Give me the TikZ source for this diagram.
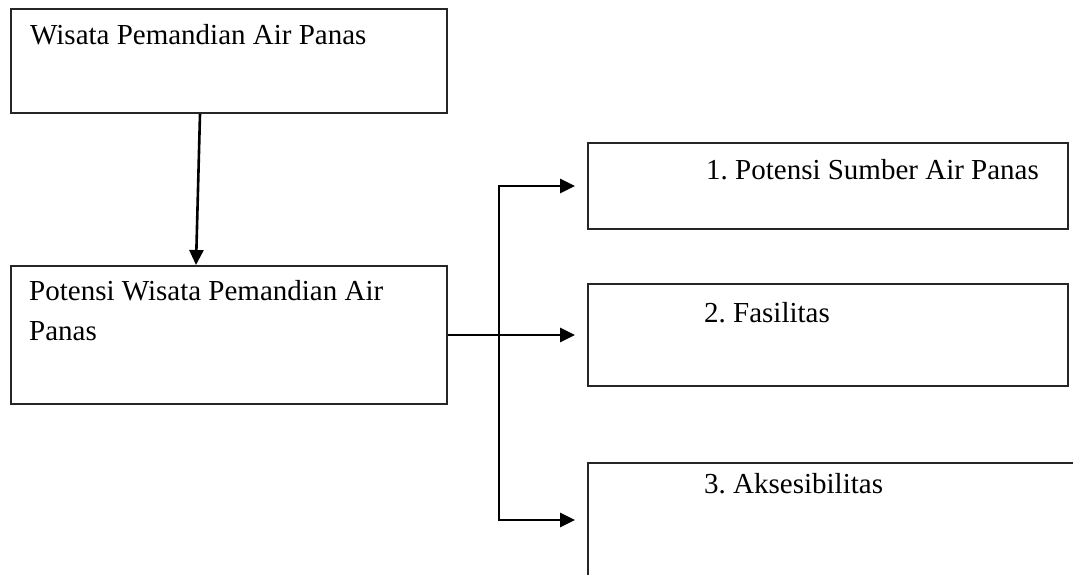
\documentclass[tikz,border=0pt]{standalone}
\usepackage{fontspec}
\setmainfont{Liberation Serif}
\usepackage{tikz}
\usetikzlibrary{arrows.meta}

\tikzset{
  box/.style={draw=black!85,line width=2pt,anchor=north west,inner sep=0pt},
  lbl/.style={anchor=base west,inner sep=0pt,font=\fontsize{29}{40}\selectfont,align=left},
  arr/.style={line width=2.6pt,-{Triangle[length=15pt,width=14pt]}},
  wire/.style={line width=2.6pt}
}

\begin{document}
\frenchspacing
\begin{tikzpicture}[x=1pt,y=-1pt]
            \useasboundingbox (0,0) rectangle (1073,575);
            \clip (0,0) rectangle (1073,575);

            % Boxes
            \node[box,minimum width=436pt,minimum height=104pt] (wisata) at (10,8) {};
            \node[box,minimum width=436pt,minimum height=138pt] (potensi) at (10,265) {};
            \node[box,minimum width=480pt,minimum height=86pt] (sumber) at (587,142) {};
            \node[box,minimum width=480pt,minimum height=102pt] (fasilitas) at (587,283) {};
            \node[box,minimum width=500pt,minimum height=114pt] (akses) at (587,462) {};

            % Texts
            \node[lbl] (t1) at (30,45) {Wisata Pemandian Air Panas};
            \node[lbl] (t2) at (29,340) {Potensi Wisata Pemandian Air\\Panas};
            \node[lbl] (t3) at (706,179) {1. Potensi Sumber Air Panas};
            \node[lbl] (t4) at (704,322) {2. Fasilitas};
            \node[lbl] (t5) at (704,493) {3. Aksesibilitas};

            % Main flow
            \draw[arr] ([xshift=-29pt]wisata.south) -- ([xshift=-33pt]potensi.north);

            % Branches
            \coordinate (split) at ([xshift=51pt]potensi.east);
            \draw[wire] (potensi.east) -- (split);
            \draw[arr] (split) |- ([xshift=-12pt]sumber.west);
            \draw[arr] (split) -- ([xshift=-12pt]split -| fasilitas.west);
            \draw[arr] (split) |- ([xshift=-12pt]akses.west);
        \end{tikzpicture}
\end{document}
